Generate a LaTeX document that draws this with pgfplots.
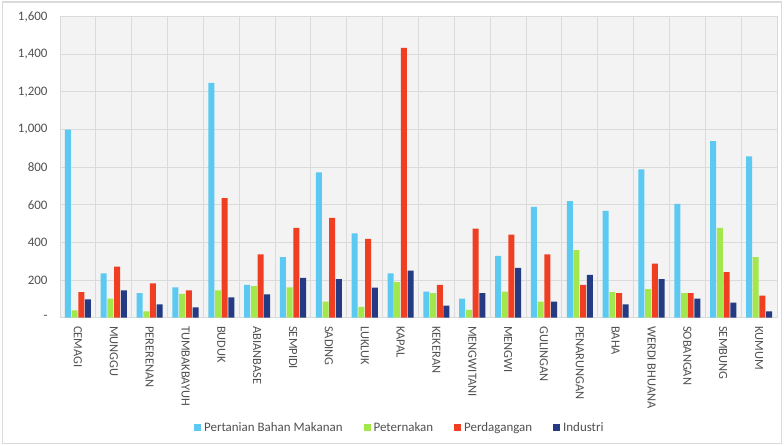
\documentclass[border=0pt]{standalone}
\usepackage{fontspec}
\setmainfont{Carlito}
\usepackage{pgfplots}
\pgfplotsset{compat=1.18}
\usepackage{pgfplotstable}
\definecolor{cBlue}{HTML}{5BC9F2}
\definecolor{cGreen}{HTML}{A2E84C}
\definecolor{cRed}{HTML}{F03E22}
\definecolor{cNavy}{HTML}{243A82}
\definecolor{cGrid}{HTML}{DADADA}
\definecolor{cBg}{HTML}{F3F3F3}
\definecolor{cTxt}{HTML}{505050}
\pgfplotstableread{
x a b c d
0 1000 39 136 98
1 235 101 272 145
2 131 34 182 71
3 161 126 145 55
4 1248 145 635 108
5 175 168 336 124
6 322 161 478 212
7 773 85 531 205
8 448 57 419 160
9 235 189 1434 250
10 138 131 175 64
11 101 41 473 131
12 329 138 441 265
13 589 85 336 85
14 620 359 175 228
15 568 136 131 71
16 788 152 287 205
17 605 131 131 101
18 938 478 242 80
19 857 322 117 34
}\datatable
\begin{document}
\begin{tikzpicture}
\begin{axis}[name=ax,
  scale only axis, width=717bp, height=301bp,
  ybar=0.7bp, bar width=6bp,
  xmin=-0.5, xmax=19.5, ymin=0, ymax=1600,
  axis background/.style={fill=cBg},
  axis line style={cGrid, line width=1bp},
  major tick length=0pt, minor tick length=0pt,
  xtick={0,...,19},
  xticklabels={CEMAGI,MUNGGU,PERERENAN,TUMBAKBAYUH,BUDUK,ABIANBASE,SEMPIDI,SADING,LUKLUK,KAPAL,KEKERAN,MENGWITANI,MENGWI,GULINGAN,PENARUNGAN,BAHA,WERDI BHUANA,SOBANGAN,SEMBUNG,KUMUM},
  minor xtick={-0.5,0.5,...,19.5},
  xminorgrids=true,
  minor grid style={cGrid, line width=1bp},
  ytick={0,200,...,1600},
  yticklabels={-,200,400,600,800,{1,000},{1,200},{1,400},{1,600}},
  ymajorgrids=true,
  major grid style={cGrid, line width=1bp},
  xticklabel style={rotate=-90, anchor=west, font=\fontsize{12.5}{13}\selectfont, text=cTxt, xshift=5bp},
  yticklabel style={font=\fontsize{13}{15}\selectfont, text=cTxt, xshift=-9bp},
  legend style={draw=none, fill=none, at={(0.474,-0.365)}, anchor=center,
    legend columns=4, font=\fontsize{13}{15}\selectfont, text=cTxt,
    /tikz/every odd column/.append style={column sep=1bp},
    /tikz/every even column/.append style={column sep=19bp}},
  legend image code/.code={\fill[#1,draw=none] (0bp,-3.5bp) rectangle (7bp,3.5bp);},
  clip=false,
]
\addplot[fill=cBlue, draw=none] table[x=x,y=a]{\datatable};
\addplot[fill=cGreen, draw=none] table[x=x,y=b]{\datatable};
\addplot[fill=cRed, draw=none] table[x=x,y=c]{\datatable};
\addplot[fill=cNavy, draw=none] table[x=x,y=d]{\datatable};
\legend{Pertanian Bahan Makanan,Peternakan,Perdagangan,Industri}
\end{axis}
\path (ax.south west) ++(-60bp,-128bp) coordinate (bl);
\path (ax.north east) ++(7bp,16.7bp) coordinate (tr);
\useasboundingbox (bl) rectangle (tr);
\draw[cGrid, line width=1.2bp] ([shift={(2.5bp,2.5bp)}]bl) rectangle ([shift={(-2.5bp,-2bp)}]tr);
\end{tikzpicture}
\end{document}
